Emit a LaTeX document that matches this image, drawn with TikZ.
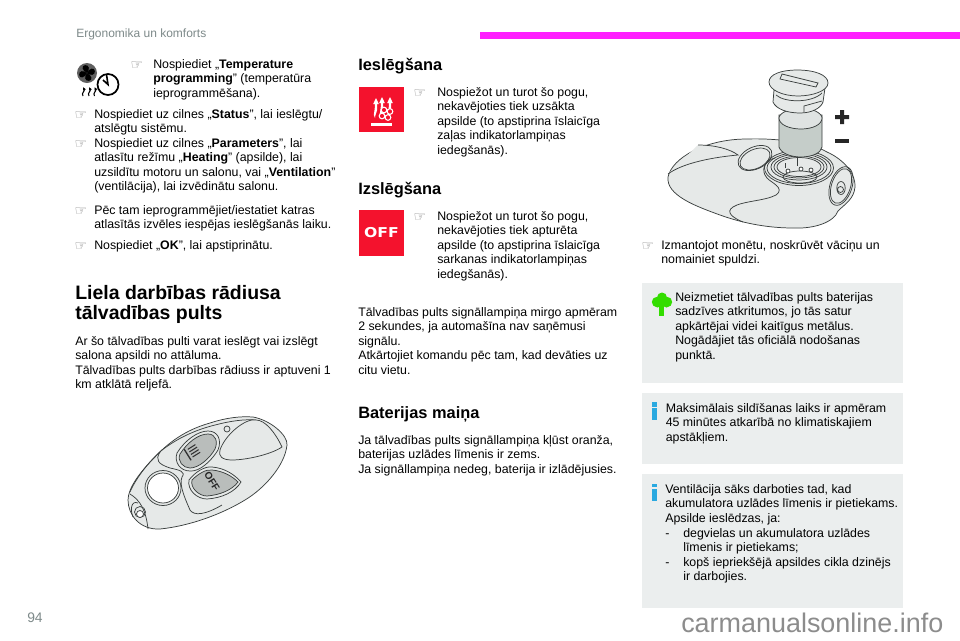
\documentclass[tikz,border=0pt]{standalone}
\usetikzlibrary{arrows.meta}
\usepackage{fontspec}
\setmainfont{Liberation Sans}
\newfontfamily\djv{DejaVu Sans}
\definecolor{boxgrey}{HTML}{EBEEEE}
\definecolor{bodyfill}{HTML}{E6E9E8}
\definecolor{btnfill}{HTML}{B9BDBB}
\definecolor{batfill}{HTML}{C5CDC9}
\definecolor{inkline}{HTML}{3A3F3E}
\definecolor{redicon}{HTML}{F4122D}
\definecolor{headgrey}{HTML}{7E8A8A}
\definecolor{ibl}{HTML}{2AA9E0}
\definecolor{treegreen}{HTML}{33DD00}
\newcommand{\fl}{\rule{0pt}{9pt}}
\tikzset{
  x=0.75pt,y=-0.75pt,
  txt/.style={anchor=north west,inner sep=0pt,align=left,font=\fontsize{9.27}{10.9}\selectfont},
  ttl/.style={anchor=west,inner sep=0pt,font=\fontsize{12.3}{14}\selectfont\bfseries},
  bigttl/.style={anchor=north west,inner sep=0pt,align=left,font=\fontsize{14.6}{15.2}\selectfont\bfseries},
  hand/.style={anchor=center,inner sep=0pt,text=gray,font=\djv\fontsize{10.5}{10}\selectfont},
  infobox/.style={fill=boxgrey,draw=none},
  ln/.style={draw=inkline,line width=0.55pt},
  fb/.style={ln,fill=bodyfill},
}
\begin{document}
\begin{tikzpicture}
\useasboundingbox (0,0) rectangle (960,640);
% header
\fill[fill=white] (0,0) rectangle (960,640);
\fill[fill={rgb,255:red,255;green,31;blue,255}] (480,32) rectangle (960,38.5);
\node[anchor=west,inner sep=0pt,text=headgrey,font=\fontsize{9}{10}\selectfont] (head) at (76,34) {Ergonomika un komforts};
\node[anchor=west,inner sep=0pt,text=headgrey,font=\fontsize{10.4}{10}\selectfont] (page) at (27,617.5) {94};
% boxes
\path[infobox] (642,283) rectangle (903,383);
\path[infobox] (642,393) rectangle (903,464);
\path[infobox] (642,474) rectangle (903,608);
% left column
\node[hand] (h1) at (137,66) {☞};
\node[txt] (t1) at (153,56) {\fl Nospiediet „\textbf{Temperature}\\\textbf{programming}” (temperatūra\\ieprogrammēšana).};
\node[hand] (h2) at (81,116) {☞};
\node[txt] (t2) at (94,106) {\fl Nospiediet uz cilnes „\textbf{Status}”, lai ieslēgtu/\\atslēgtu sistēmu.};
\node[hand] (h3) at (81,145) {☞};
\node[txt] (t3) at (94,135) {\fl Nospiediet uz cilnes „\textbf{Parameters}”, lai\\atlasītu režīmu „\textbf{Heating}” (apsilde), lai\\uzsildītu motoru un salonu, vai „\textbf{Ventilation}”\\(ventilācija), lai izvēdinātu salonu.};
\node[hand] (h4) at (81,212) {☞};
\node[txt] (t4) at (94,202) {\fl Pēc tam ieprogrammējiet/iestatiet katras\\atlasītās izvēles iespējas ieslēgšanās laiku.};
\node[hand] (h5) at (81,247) {☞};
\node[txt] (t5) at (94,237) {\fl Nospiediet „\textbf{OK}”, lai apstiprinātu.};
\node[bigttl] (t6) at (75,285) {Liela darbības rādiusa\\tālvadības pults};
\node[txt] (t7) at (75,333) {\fl Ar šo tālvadības pulti varat ieslēgt vai izslēgt\\salona apsildi no attāluma.\\Tālvadības pults darbības rādiuss ir aptuveni 1\\km atklātā reljefā.};
% middle column
\node[ttl] (m1) at (358,66) {Ieslēgšana};
\fill[redicon] (359,87) rectangle (404,132);
\node[hand] (h6) at (420,94) {☞};
\node[txt] (m2) at (437,84) {\fl Nospiežot un turot šo pogu,\\nekavējoties tiek uzsākta\\apsilde (to apstiprina īslaicīga\\zaļas indikatorlampiņas\\iedegšanās).};
\node[ttl] (m3) at (358,190) {Izslēgšana};
\fill[redicon] (359,210) rectangle (404,256);
\node[anchor=center,inner sep=0pt,text=white,xscale=1.15,font=\djv\bfseries\fontsize{10.2}{11}\selectfont] (off) at (381.5,233) {OFF};
\node[hand] (h7) at (420,218) {☞};
\node[txt] (m4) at (437,208) {\fl Nospiežot un turot šo pogu,\\nekavējoties tiek apturēta\\apsilde (to apstiprina īslaicīga\\sarkanas indikatorlampiņas\\iedegšanās).};
\node[txt] (m5) at (358,304) {\fl Tālvadības pults signāllampiņa mirgo apmēram\\2 sekundes, ja automašīna nav saņēmusi\\signālu.\\Atkārtojiet komandu pēc tam, kad devāties uz\\citu vietu.};
\node[ttl] (m6) at (358,414) {Baterijas maiņa};
\node[txt] (m7) at (358,432) {\fl Ja tālvadības pults signāllampiņa kļūst oranža,\\baterijas uzlādes līmenis ir zems.\\Ja signāllampiņa nedeg, baterija ir izlādējusies.};
% right column
\node[hand] (h8) at (648,247) {☞};
\node[txt] (r1) at (661,237) {\fl Izmantojot monētu, noskrūvēt vāciņu un\\nomainiet spuldzi.};
\node[txt] (r2) at (675,289) {\fl Neizmetiet tālvadības pults baterijas\\sadzīves atkritumos, jo tās satur\\apkārtējai videi kaitīgus metālus.\\Nogādājiet tās oficiālā nodošanas\\punktā.};
\node[txt] (r3) at (665.5,400) {\fl Maksimālais sildīšanas laiks ir apmēram\\45 minūtes atkarībā no klimatiskajiem\\apstākļiem.};
\node[txt] (r4) at (665,481) {\fl Ventilācija sāks darboties tad, kad\\akumulatora uzlādes līmenis ir pietiekams.\\Apsilde ieslēdzas, ja:};
\node[txt] (r5) at (665,525) {\fl -\\\mbox{}\\-};
\node[txt] (r6) at (683,525) {\fl degvielas un akumulatora uzlādes\\līmenis ir pietiekams;\\kopš iepriekšējā apsildes cikla dzinējs\\ir darbojies.};
% i icons
\fill[ibl] (652,402) rectangle (657,406.5);
\fill[ibl] (652,408) rectangle (657,420);
\fill[ibl] (652,484) rectangle (657,487);
\fill[ibl] (652,488.5) rectangle (657,501);
% tree icon
\fill[treegreen] (658.5,305) rectangle (664,316);
\fill[treegreen] (662,297.5) circle (5) (657,302) circle (5.2) (667,302) circle (5.2) (657.5,304) circle (3.5) (666.5,304) circle (3.5) (662,303) circle (4);
% fan + clock icon
\fill[gray!75!black] (87,73) circle (10);
\foreach \a in {20,110,200,290}{
  \fill[black,rotate around={\a:(87,73)}] (87,73) .. controls (83,69) and (84,64) .. (88,65) .. controls (92,66) and (91,71) .. (87,73) -- cycle;
}
\draw[black,line width=1.3pt] (108,84.5) circle (10.5);
\draw[black,line width=1.2pt] (106.5,74.5) -- (108,84.5) -- (103,80);
\foreach \x in {83,89,94.5}{
  \draw[black,line width=0.8pt,-{Latex[length=2.5pt,width=2.5pt]}] (\x,96) .. controls (\x-2,93) and (\x+2,91) .. (\x,87);
}
% heat icon
\fill[white] (371,123) rectangle (392,126);
\foreach \x/\yy in {376/98,382/97,390/97}{
  \fill[white] (\x,\yy) -- (\x+2.8,\yy+6) -- (\x+1.1,\yy+6) -- (\x+1.1,\yy+12) .. controls (\x+1,\yy+15) and (\x-1,\yy+16) .. (\x-1,\yy+20) -- (\x-2.2,\yy+17) .. controls (\x-2,\yy+13) and (\x-1.1,\yy+13) .. (\x-1.1,\yy+6) -- (\x-2.8,\yy+6) -- cycle;
}
\draw[white,fill=redicon,line width=0.8pt] (384,110) circle (2.8) (390,111.5) circle (2.8) (382,116) circle (2.8) (388,117.5) circle (2.8);
% battery illustration: body
\path[fb] (668,177) .. controls (672,158) and (705,139) .. (747,139) .. controls (775,138) and (810,142) .. (827,152)
  .. controls (845,160) and (856,175) .. (855,187) .. controls (854,199) and (845,204) .. (838,211)
  .. controls (834,222) and (815,229) .. (793,228) .. controls (770,228) and (745,224) .. (720,215)
  .. controls (695,206) and (666,195) .. (668,177) -- cycle;
\draw[ln] (743,222) .. controls (733,218) and (725,212) .. (733,207) .. controls (742,201) and (765,201) .. (776,195) .. controls (786,188) and (770,182) .. (767,178) .. controls (760,170) and (765,160) .. (775,158);
\draw[ln,fill=bodyfill] (668,174) .. controls (680,165) and (705,158) .. (738,155) .. controls (730,149) and (715,145) .. (698,145);
\draw[ln,rotate around={25:(755,158)}] (755,158) ellipse (18 and 11);
\draw[ln,rotate around={25:(755,159)}] (755,159) ellipse (16 and 9.5);
\draw[ln,rotate around={-18:(841,186)}] (841,186) ellipse (11 and 20);
\draw[ln,rotate around={-18:(841,186)}] (841,186) ellipse (9.5 and 18);
\draw[ln] (841,188) ellipse (4.2 and 6.5) (840.5,189.5) circle (3);
% socket
\draw[ln] (799,168) ellipse (34.5 and 17.5);
\draw[ln] (799,168) ellipse (32 and 15.5);
\draw[ln] (799,167) ellipse (28 and 13);
\draw[ln] (799,167) ellipse (25 and 11);
\draw[ln] (799,167) ellipse (22 and 9.5);
\draw[ln] (800,177) ellipse (17 and 6);
\draw[ln] (785,168) -- (785,163) (797,166) -- (797,158);
\draw[ln,fill=white] (788,171) circle (2) (801,169) circle (2) (811,170) circle (2);
% battery
\path[ln,fill=batfill] (779,115) -- (779,147) .. controls (781,153) and (790,157) .. (801,157) .. controls (812,157) and (821,153) .. (822,147) -- (822,115) -- cycle;
\path[ln,fill=bodyfill!80!batfill] (779,118) .. controls (779,113) and (790,108) .. (801,108) .. controls (812,108) and (822,113) .. (822,118) .. controls (822,125) and (812,129) .. (801,129) .. controls (790,129) and (779,125) .. (779,118) -- cycle;
% cap
\path[ln,fill=bodyfill] (774,90) -- (773,102) .. controls (776,109) and (787,113) .. (800,113) .. controls (812,113) and (821,108) .. (823,102) -- (825,88) -- cycle;
\draw[ln] (776,95) .. controls (785,103) and (812,103) .. (822,93);
\draw[ln] (804,112) -- (804,106) -- (822,101);
\draw[ln,fill=bodyfill] (769,82) .. controls (769,74) and (782,70) .. (797,70) .. controls (815,70) and (828,75) .. (828,83) .. controls (828,91) and (812,96) .. (798,96) .. controls (783,96) and (769,90) .. (769,82) -- cycle;
\draw[ln,fill=bodyfill] (782,74) -- (818,83) -- (816,87) -- (780,79) -- cycle;
% plus minus
\fill[black!85] (835,115) rectangle (849,119) (840,110) rectangle (844,124);
\fill[black!85] (835,139) rectangle (849,143);
% key fob
\path[fb] (128,500) .. controls (128,488) and (140,472) .. (155,457) .. controls (168,443) and (185,430) .. (210,423) .. controls (225,418) and (240,416) .. (253,417)
  .. controls (270,420) and (288,435) .. (287,445) .. controls (285,465) and (265,488) .. (245,500) .. controls (222,514) and (190,526) .. (160,529) .. controls (140,530) and (128,515) .. (128,500) -- cycle;
\draw[ln] (130,492) .. controls (135,480) and (148,462) .. (162,450) .. controls (178,438) and (195,430) .. (215,425) .. controls (230,421) and (245,419) .. (256,420);
\draw[ln,fill=bodyfill] (220,450) .. controls (225,435) and (245,418) .. (256,420) .. controls (265,420) and (275,432) .. (282,447) .. controls (270,455) and (245,460) .. (232,460) .. controls (222,460) and (218,456) .. (220,450) -- cycle;
\draw[ln] (227,429) circle (3);
\draw[ln] (160,452) .. controls (155,460) and (158,464) .. (170,468) .. controls (180,470) and (186,472) .. (182,477) .. controls (178,485) and (188,505) .. (190,510) .. controls (194,516) and (205,515) .. (222,505);
\path[ln,fill=bodyfill] (177,453) .. controls (185,440) and (198,431) .. (208,431) .. controls (218,431) and (222,440) .. (218,450) .. controls (212,460) and (200,472) .. (190,471) .. controls (180,471) and (174,462) .. (177,453) -- cycle;
\path[ln,fill=btnfill] (180,454) .. controls (187,443) and (198,434) .. (208,434) .. controls (216,434) and (218,442) .. (215,449) .. controls (210,458) and (199,468) .. (190,468) .. controls (183,468) and (177,461) .. (180,454) -- cycle;
\path[ln,fill=bodyfill] (189,480) .. controls (195,472) and (205,466) .. (212,467) .. controls (225,468) and (235,475) .. (241,482) .. controls (235,492) and (222,498) .. (207,499) .. controls (197,499) and (187,490) .. (189,480) -- cycle;
\path[ln,fill=btnfill] (192,480) .. controls (198,474) and (206,469) .. (212,470) .. controls (223,471) and (232,476) .. (238,482) .. controls (232,490) and (220,495) .. (207,496) .. controls (199,496) and (190,488) .. (192,480) -- cycle;
\node[anchor=center,inner sep=0pt,rotate=-58,text=black!85,font=\bfseries\fontsize{7.5}{8}\selectfont] (foboff) at (212,481.5) {OFF};
\begin{scope}[rotate around={-58:(193,452)}]
\foreach \x in {188,191,194,197}{\draw[black!80,line width=0.8pt] (\x,446) -- (\x,455);}
\draw[black!80,line width=1pt] (186,458) -- (199,458);
\end{scope}
\draw[ln] (163,488) ellipse (18 and 17.5);
\draw[ln,fill=white] (163,488) ellipse (15.5 and 15);
\draw[ln] (130,494) .. controls (140,500) and (146,510) .. (148,529);
\draw[ln] (133,517) .. controls (130,510) and (131,500) .. (138,503);
\draw[ln] (140,512) circle (5.5);
\draw[ln,fill=white] (140,514) circle (3.5);
% watermark
\node[anchor=base west,inner sep=0pt,text=black!45,font=\fontsize{20.2}{22}\selectfont] (wm) at (681,632) {carmanualsonline.info};
\end{tikzpicture}
\end{document}
